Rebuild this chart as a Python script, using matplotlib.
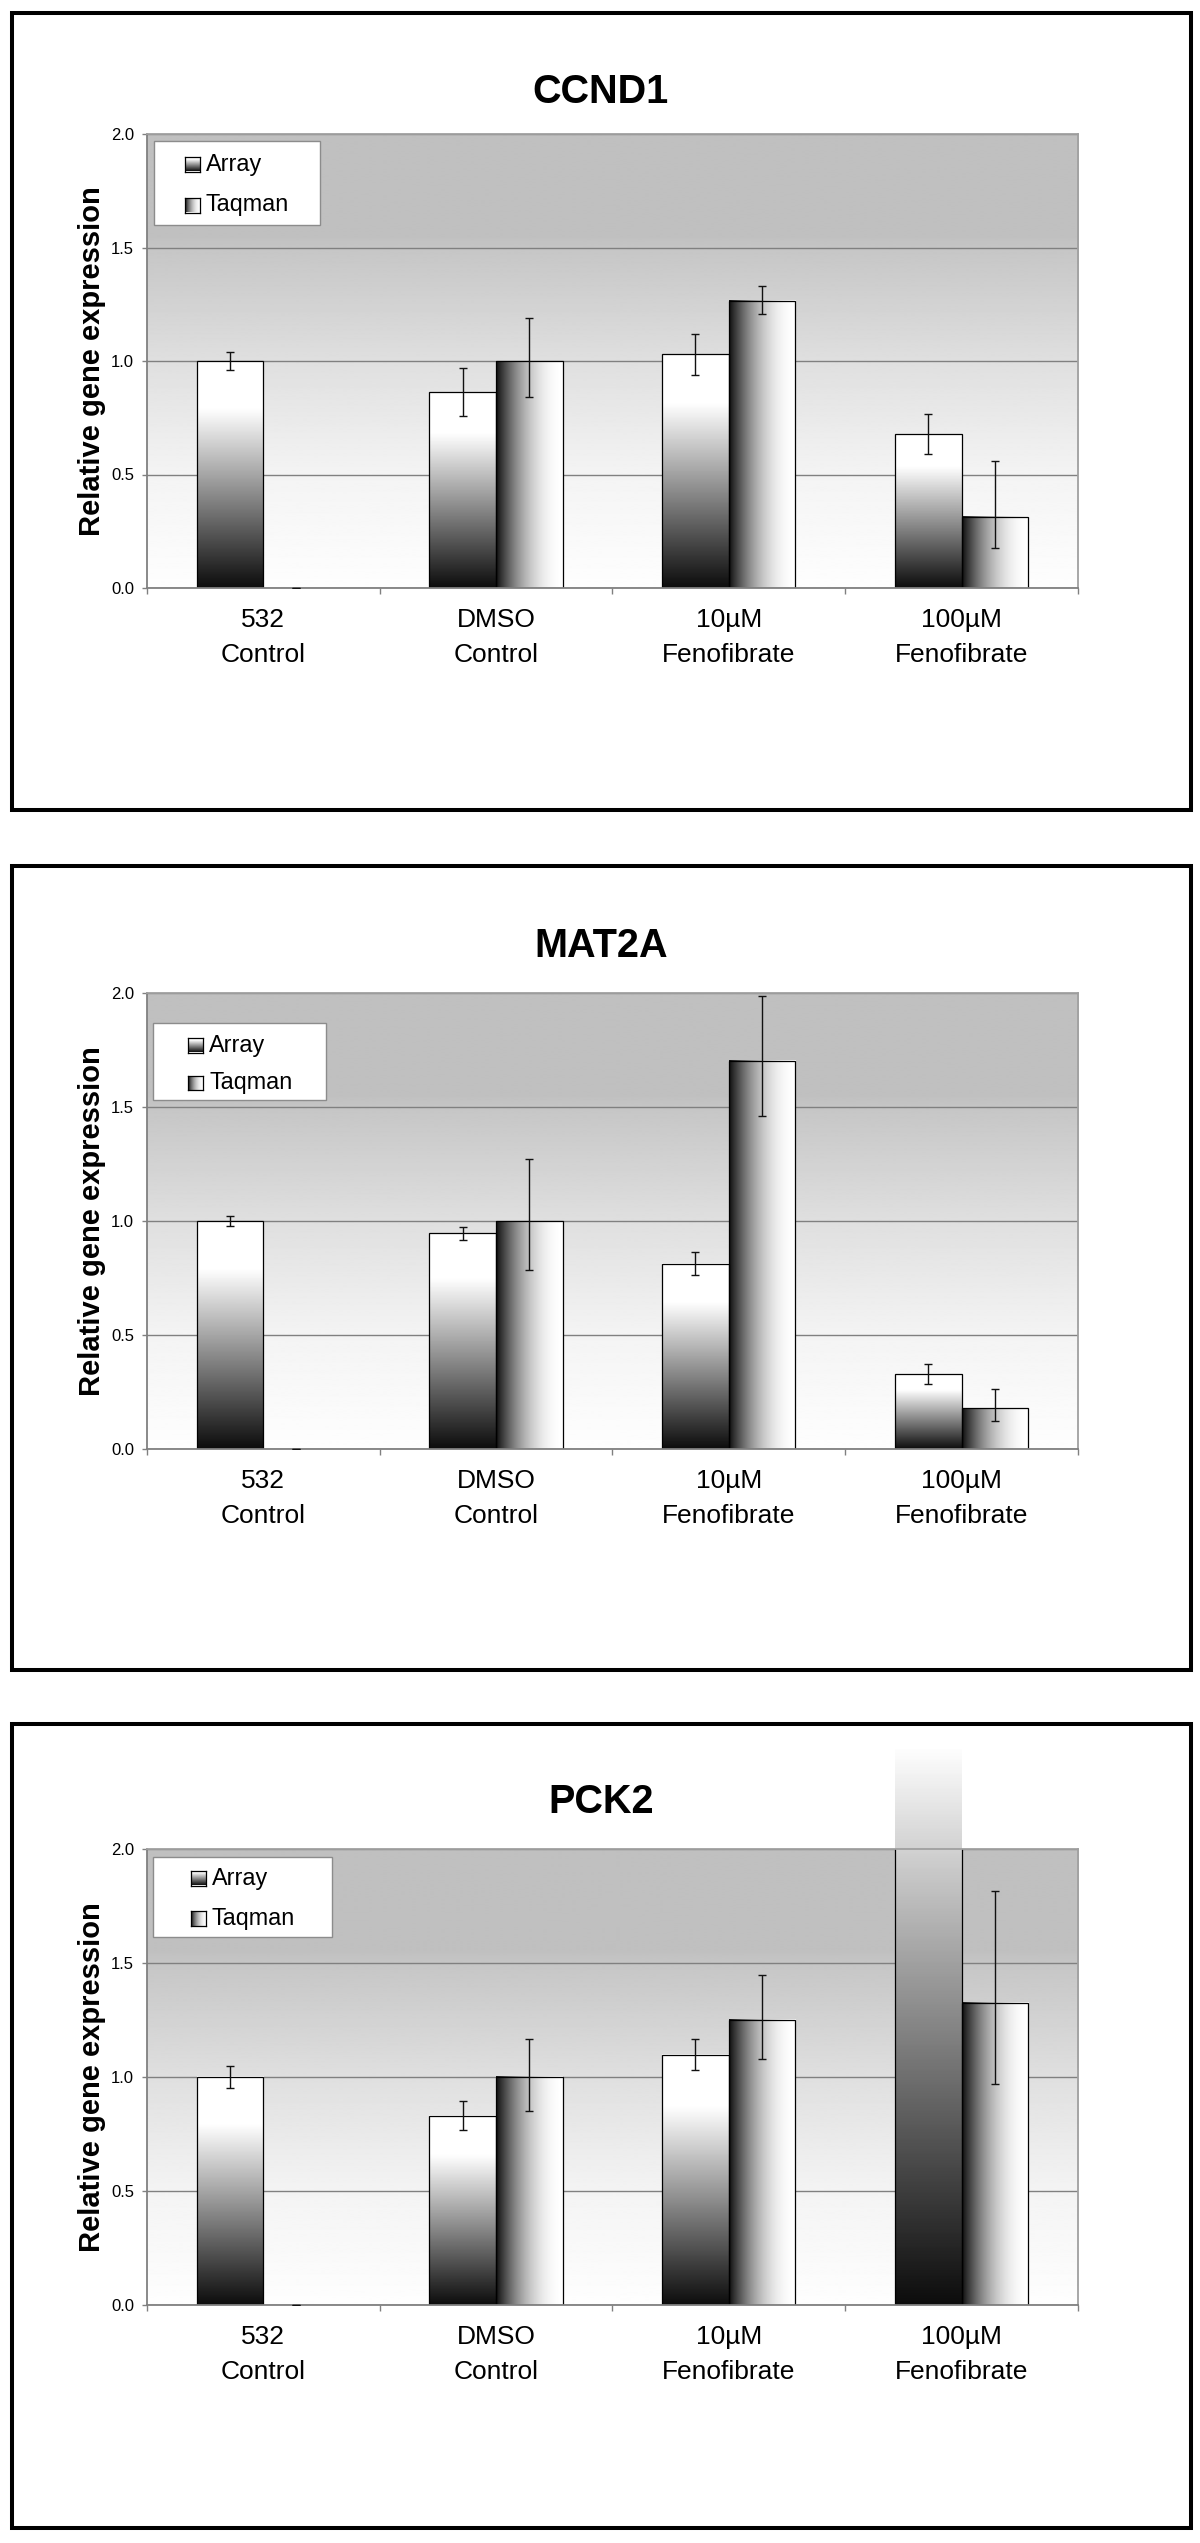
import numpy as np
import matplotlib
matplotlib.use("Agg")
import matplotlib.pyplot as plt
from matplotlib.patches import Rectangle

plt.rcParams['font.family'] = ['Liberation Sans', 'DejaVu Sans']

# ---------------- data ----------------
categories = ['532\nControl', 'DMSO\nControl', '10µM\nFenofibrate', '100µM\nFenofibrate']
series_names = ['Array', 'Taqman']
genes = ['CCND1', 'MAT2A', 'PCK2']
y_ticks = [0.0, 0.5, 1.0, 1.5, 2.0]
y_tick_labels = ['0.0', '0.5', '1.0', '1.5', '2.0']
y_label = 'Relative gene expression'

ccnd1_array = [1.00, 0.863, 1.029, 0.678]
ccnd1_array_err = [0.038, 0.107, 0.090, 0.087]
ccnd1_taqman = [0.0, 1.00, 1.266, 0.313]
ccnd1_taqman_err_low = [0.0, 0.159, 0.060, 0.138]
ccnd1_taqman_err_high = [0.0, 0.189, 0.065, 0.245]

mat2a_array = [1.00, 0.946, 0.813, 0.327]
mat2a_array_err = [0.024, 0.028, 0.050, 0.044]
mat2a_taqman = [0.0, 1.00, 1.703, 0.178]
mat2a_taqman_err_low = [0.0, 0.215, 0.243, 0.057]
mat2a_taqman_err_high = [0.0, 0.272, 0.282, 0.085]

# 100µM Array bar runs off the chart (estimated value, clipped at the chart area)
pck2_array = [1.00, 0.830, 1.098, 3.10]
pck2_array_err = [0.049, 0.064, 0.069, np.nan]
pck2_taqman = [0.0, 1.00, 1.251, 1.325]
pck2_taqman_err_low = [0.0, 0.148, 0.170, 0.355]
pck2_taqman_err_high = [0.0, 0.168, 0.198, 0.491]

gene_data = {
    'CCND1': (ccnd1_array, ccnd1_array_err, ccnd1_taqman, ccnd1_taqman_err_low, ccnd1_taqman_err_high),
    'MAT2A': (mat2a_array, mat2a_array_err, mat2a_taqman, mat2a_taqman_err_low, mat2a_taqman_err_high),
    'PCK2': (pck2_array, pck2_array_err, pck2_taqman, pck2_taqman_err_low, pck2_taqman_err_high),
}

# ---------------- layout (pixels) ----------------
W, H = 1200, 2543
fig = plt.figure(figsize=(W / 100, H / 100), dpi=100)
fig.patch.set_facecolor('white')

def fx(x):
    return x / W

def fy(y):
    return 1 - y / H

panels = [
    dict(frame=(12, 13, 1191, 810), axes=(146.7, 134, 1078, 588), title_y=92,
         legend=(154, 141, 320, 225), sw_x=185, txt_x=206, rows=(164, 205), chart_top=38),
    dict(frame=(12, 866, 1191, 1670), axes=(146.7, 993, 1078, 1449), title_y=946,
         legend=(153, 1023, 326, 1100), sw_x=188, txt_x=209, rows=(1045, 1083), chart_top=891),
    dict(frame=(12, 1724, 1191, 2528), axes=(146.7, 1849, 1078, 2305), title_y=1802,
         legend=(153, 1857, 332, 1937), sw_x=191, txt_x=212, rows=(1878, 1918), chart_top=1749),
]

bar_w = 0.286
t = np.linspace(0, 1, 256)
array_grad = np.clip(0.05 + 1.2 * t, 0, 1)[:, None]
taqman_grad = (1 - 0.94 * (1 - t) ** 2)[None, :]
bg_y = np.linspace(0, 2, 400)
bg_vals = np.interp(bg_y, [0.0, 0.5, 1.0, 1.5, 1.55, 2.0],
                    [0.995, 0.955, 0.875, 0.775, 0.753, 0.753])[:, None]

for gene, p in zip(genes, panels):
    arr, arr_err, taq, taq_lo, taq_hi = [np.asarray(v, dtype=float) for v in gene_data[gene]]

    # frame
    x0, y0, x1, y1 = p['frame']
    fig.add_artist(Rectangle((fx(x0), fy(y1)), fx(x1) - fx(x0), fy(y0) - fy(y1),
                             transform=fig.transFigure, fill=False, lw=2.9, ec='black'))
    chart_clip = Rectangle((fx(x0 + 2), fy(y1 - 2)), fx(x1 - x0 - 4), fy(p['chart_top']) - fy(y1 - 2),
                           transform=fig.transFigure)

    ax0, ay0, ax1, ay1 = p['axes']
    ax = fig.add_axes([fx(ax0), fy(ay1), fx(ax1) - fx(ax0), fy(ay0) - fy(ay1)])
    ax.set_facecolor('white')

    # plot-area background gradient
    ax.imshow(bg_vals, extent=[-0.5, 3.5, 0, 2], origin='lower', aspect='auto',
              cmap='gray', vmin=0, vmax=1, zorder=0, interpolation='bilinear')
    ax.set_axisbelow(True)
    ax.yaxis.grid(True, color='#808080', lw=1.0)

    x = np.arange(len(categories))
    for i, v in enumerate(arr):
        if v > 0:
            im = ax.imshow(array_grad, extent=[x[i] - bar_w, x[i], 0, v], origin='lower',
                           aspect='auto', cmap='gray', vmin=0, vmax=1, zorder=2,
                           interpolation='bilinear')
            im.set_clip_path(chart_clip)
    for i, v in enumerate(taq):
        if v > 0:
            im = ax.imshow(taqman_grad, extent=[x[i], x[i] + bar_w, 0, v], origin='lower',
                           aspect='auto', cmap='gray', vmin=0, vmax=1, zorder=2,
                           interpolation='bilinear')
            im.set_clip_path(chart_clip)

    ax.bar(x - bar_w / 2, arr, width=bar_w, fill=False, edgecolor='black',
           linewidth=[0.9 if v > 0 else 0 for v in arr], zorder=2.5)
    ax.bar(x + bar_w / 2, taq, width=bar_w, fill=False, edgecolor='black',
           linewidth=[0.9 if v > 0 else 0 for v in taq], zorder=2.5)

    m = np.isfinite(arr_err)
    ax.errorbar((x - bar_w / 2)[m], arr[m], yerr=arr_err[m], fmt='none', ecolor='#111111',
                elinewidth=1.0, capsize=3, capthick=1.0, zorder=3)
    ax.errorbar(x + bar_w / 2, taq, yerr=[taq_lo, taq_hi], fmt='none', ecolor='#111111',
                elinewidth=1.0, capsize=3, capthick=1.0, zorder=3)

    ax.set_xlim(-0.5, 3.5)
    ax.set_ylim(0, 2)
    ax.set_yticks(y_ticks)
    ax.set_yticklabels(y_tick_labels, fontsize=12)
    ax.tick_params(axis='y', direction='out', length=3.5, width=1, color='#808080', pad=5.5)
    ax.set_xticks(np.arange(-0.5, 3.6, 1.0))
    ax.set_xticklabels([])
    ax.tick_params(axis='x', which='major', direction='out', length=4.5, width=1, color='#808080')
    ax.set_xticks(x, minor=True)
    ax.set_xticklabels(categories, minor=True, fontsize=19, linespacing=1.55)
    ax.tick_params(axis='x', which='minor', length=0, pad=14.5)
    for s in ['left', 'bottom']:
        ax.spines[s].set_color('#808080')
        ax.spines[s].set_linewidth(1.3)
    for s in ['top', 'right']:
        ax.spines[s].set_color('#a0a0a0')
        ax.spines[s].set_linewidth(1.3)

    # title and y label
    fig.text(fx(601), fy(p['title_y']), gene, ha='center', va='center',
             fontsize=28.5, fontweight='bold')
    fig.text(fx(92), fy((ay0 + ay1) / 2), y_label, rotation=90, ha='center', va='center',
             fontsize=21, fontweight='bold')

    # legend
    lx0, ly0, lx1, ly1 = p['legend']
    fig.add_artist(Rectangle((fx(lx0), fy(ly1)), fx(lx1) - fx(lx0), fy(ly0) - fy(ly1),
                             transform=fig.transFigure, facecolor='white', ec='#8c8c8c',
                             lw=1.0, zorder=5))
    sw = 15
    for name, ry, grad in zip(series_names, p['rows'], [array_grad, taqman_grad]):
        sax = fig.add_axes([fx(p['sw_x']), fy(ry + sw / 2), fx(sw), fy(ry - sw / 2) - fy(ry + sw / 2)],
                           zorder=6)
        sax.imshow(grad, extent=[0, 1, 0, 1], origin='lower', aspect='auto', cmap='gray',
                   vmin=0, vmax=1, interpolation='bilinear')
        sax.set_xticks([])
        sax.set_yticks([])
        for s in sax.spines.values():
            s.set_color('black')
            s.set_linewidth(0.9)
        fig.text(fx(p['txt_x']), fy(ry), name, ha='left', va='center', fontsize=16.8, zorder=7)

fig.savefig('out.png', dpi=100, facecolor='white')
